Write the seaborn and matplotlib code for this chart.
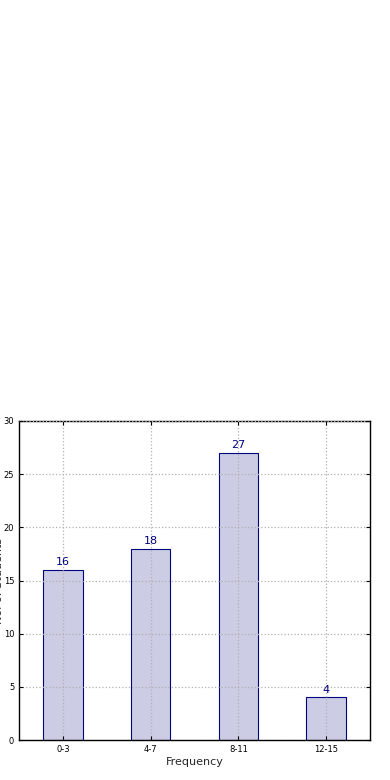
import matplotlib
matplotlib.use('Agg')
import matplotlib.pyplot as plt
import seaborn as sns
import pandas as pd

categories = ['0-3', '4-7', '8-11', '12-15']
counts = [16, 18, 27, 4]

df = pd.DataFrame({'Frequency': categories, 'Count': counts})

sns.set_style('white')
plt.rcParams['font.family'] = ['DejaVu Sans']

fig = plt.figure(figsize=(3.9, 7.8), dpi=100)
ax = fig.add_axes([19 / 390, 40 / 780, 351 / 390, 319 / 780])

sns.barplot(data=df, x='Frequency', y='Count', color='#ccccE5', saturation=1,
            edgecolor='#00007f', linewidth=0.8, width=0.45, ax=ax)

for i, v in enumerate(counts):
    ax.text(i, v + 0.25, str(v), ha='center', va='bottom', fontsize=8, color='#00007f')

ax.set_xlim(-0.5, 3.5)
ax.set_ylim(0, 30)
ax.set_yticks([0, 5, 10, 15, 20, 25, 30])
ax.grid(True, linestyle=':', color='#b0b0b0', linewidth=0.9)
ax.set_axisbelow(False)
for s in ax.spines.values():
    s.set_visible(True)
    s.set_color('black')
    s.set_linewidth(1)
ax.tick_params(labelsize=6, length=3, direction='in', colors='black')
ax.tick_params(axis='both', which='both', top=True, right=True, left=True, bottom=True)
ax.set_xlabel('Frequency', fontsize=8, labelpad=2)
ax.set_ylabel('No. of Students', fontsize=8)
ax.yaxis.set_label_coords(-0.042, 0.5)

fig.savefig('out.png', dpi=100, facecolor='white')
